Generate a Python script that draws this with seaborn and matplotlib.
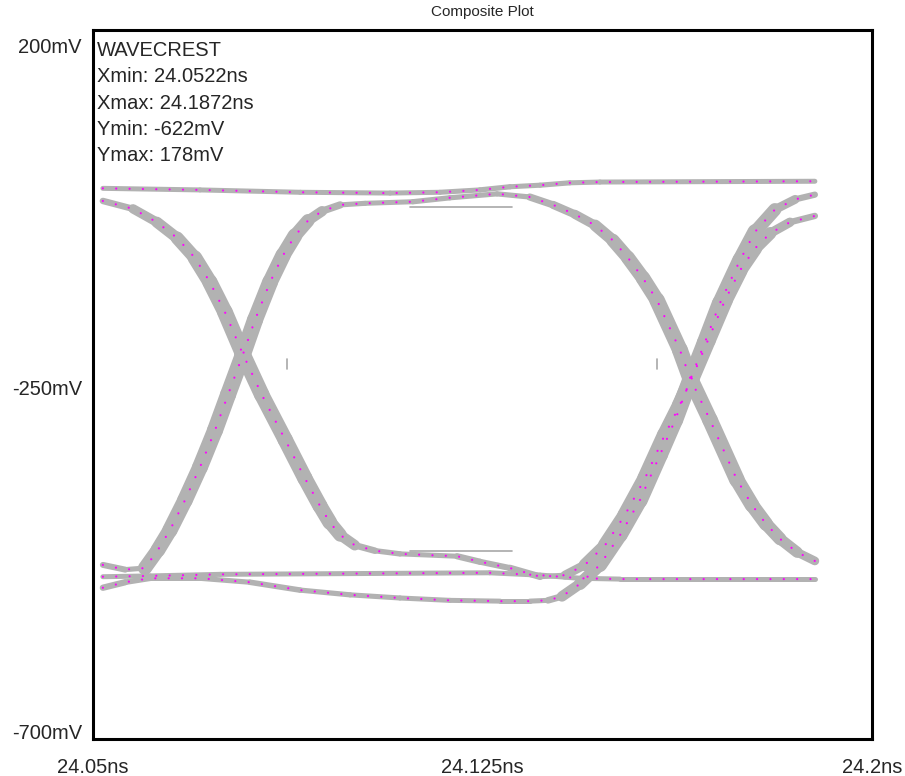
import numpy as np
import pandas as pd
import seaborn as sns
import matplotlib.pyplot as plt
from matplotlib.transforms import ScaledTranslation

# Eye traces: time in ns, level in mV
rail_high_ns = [24.0519, 24.0706, 24.0899, 24.1072, 24.1168, 24.1245, 24.1303, 24.1361, 24.1418, 24.1476, 24.1890]
rail_high_mv = [-1, -3, -6, -7, -6, -3, 1, 3, 6, 7, 8]

fall_left_ns = [24.0519, 24.0577, 24.0623, 24.0662, 24.0696, 24.0725, 24.0754, 24.0787, 24.0825, 24.0870,
                24.0908, 24.0937, 24.0956, 24.0976, 24.1004, 24.1043, 24.1091, 24.1201, 24.1245, 24.1303,
                24.1361, 24.1409, 24.1447, 24.1486, 24.1524, 24.1563, 24.1601, 24.1630, 24.1653, 24.1684,
                24.1717, 24.1746, 24.1775, 24.1804, 24.1842, 24.1890]
fall_left_mv = [-17, -27, -44, -64, -89, -120, -158, -209, -263, -320,
                -369, -404, -425, -441, -454, -461, -465, -468, -475, -483,
                -494, -492, -479, -454, -416, -369, -314, -276, -242, -194,
                -143, -105, -77, -58, -44, -36]

rise_left_ns = [24.0519, 24.0562, 24.0600, 24.0625, 24.0648, 24.0677, 24.0706, 24.0735, 24.0760, 24.0787,
                24.0812, 24.0841, 24.0866, 24.0889, 24.0914, 24.0941, 24.0976, 24.1024, 24.1116, 24.1187,
                24.1278, 24.1341, 24.1386, 24.1428, 24.1467, 24.1501, 24.1530, 24.1559, 24.1586, 24.1630,
                24.1650, 24.1688, 24.1740, 24.1769, 24.1796, 24.1823, 24.1856, 24.1890]
rise_left_mv = [-479, -485, -483, -460, -435, -397, -355, -308, -263, -215,
                -168, -120, -86, -61, -42, -30, -22, -20, -18, -13,
                -8, -12, -22, -34, -48, -67, -89, -115, -143, -206,
                -242, -295, -371, -403, -427, -446, -463, -474]

rail_low_ns = [24.0519, 24.0562, 24.0610, 24.0706, 24.0802, 24.0899, 24.0995, 24.1091, 24.1187, 24.1284,
               24.1341, 24.1376, 24.1403, 24.1438, 24.1476, 24.1515, 24.1553, 24.1592, 24.1621, 24.1650,
               24.1678, 24.1707, 24.1746, 24.1775, 24.1813, 24.1852, 24.1890]
rail_low_mv = [-508, -501, -496, -496, -501, -511, -517, -521, -524, -525,
               -525, -524, -519, -503, -479, -441, -397, -339, -295, -244,
               -197, -147, -92, -56, -28, -15, -9]

rail_mid_ns = [24.0519, 24.0610, 24.0745, 24.1264, 24.1361, 24.1438, 24.1515, 24.1890]
rail_mid_mv = [-494, -493, -491, -489, -492, -496, -497, -497]

# measurement cursors
cursor_h_ns = [24.1110, 24.1307]
cursor_h_mv = [-25, -461]
cursor_v_ns = [24.0874, 24.1586]
cursor_v_mv = [-218, -230]

info_lines = ["WAVECREST", "Xmin: 24.0522ns", "Xmax: 24.1872ns", "Ymin: -622mV", "Ymax: 178mV"]
x_ticks = [24.05, 24.125, 24.2]
x_labels = ["24.05ns", "24.125ns", "24.2ns"]
y_ticks = [200, -250, -700]
y_labels = ["200mV", "-250mV", "-700mV"]

traces = {
    "rail_high": (rail_high_ns, rail_high_mv),
    "fall_left": (fall_left_ns, fall_left_mv),
    "rise_left": (rise_left_ns, rise_left_mv),
    "rail_low": (rail_low_ns, rail_low_mv),
    "rail_mid": (rail_mid_ns, rail_mid_mv),
}

sns.set_style("white")
plt.rcParams["font.family"] = ["Liberation Sans", "DejaVu Sans"]

W, H = 905, 776
fig = plt.figure(figsize=(W / 100, H / 100), dpi=100)
ax = fig.add_axes([93 / W, 37 / H, 779 / W, 709 / H])
ax.set_xlim(24.05, 24.2)
ax.set_ylim(-700, 200)

# split traces into segments so the band gets wider where the edge is steep
# (timing jitter spreads it sideways, noise only a little vertically)
rows = []
for name, (xs, ys) in traces.items():
    pix = ax.transData.transform(np.column_stack([xs, ys]))
    for i in range(len(xs) - 1):
        dx, dy = pix[i + 1] - pix[i]
        ang = np.arctan2(abs(dy), abs(dx))
        w = np.hypot(17 * np.sin(ang), 5 * np.cos(ang)) * 0.72
        seg = f"{name}_{i}"
        rows.append({"seg": seg, "t": xs[i], "v": ys[i], "w": w})
        rows.append({"seg": seg, "t": xs[i + 1], "v": ys[i + 1], "w": w})
segs = pd.DataFrame(rows)
wmin, wmax = segs["w"].min(), segs["w"].max()

sns.lineplot(data=segs, x="t", y="v", units="seg", estimator=None, sort=False,
             size="w", sizes=(wmin, wmax), size_norm=(wmin, wmax),
             color="#b2b2b2", solid_capstyle="round", legend=False, ax=ax)

full = pd.concat([pd.DataFrame({"trace": k, "t": v[0], "v": v[1]}) for k, v in traces.items()])
sns.lineplot(data=full, x="t", y="v", units="trace", estimator=None, sort=False,
             color="#ff00ff", lw=1.6, linestyle=(0, (0.01, 6)), dash_capstyle="round",
             legend=False, ax=ax)

for mv in cursor_h_mv:
    sns.lineplot(x=cursor_h_ns, y=[mv, mv], color="#a8a8a8", lw=1.2, ax=ax)
for ns in cursor_v_ns:
    sns.lineplot(x=[ns, ns], y=cursor_v_mv, color="#a8a8a8", lw=1.2, ax=ax, orient="y")

for s in ax.spines.values():
    s.set_color("black")
    s.set_linewidth(2.2)

ax.set_xticks(x_ticks, x_labels, fontsize=14.5)
ax.set_yticks(y_ticks, y_labels, fontsize=14.5)
ax.tick_params(axis="both", length=0)
ax.tick_params(axis="x", pad=14)
ax.tick_params(axis="y", pad=8)
ax.set_xlabel("")
ax.set_ylabel("")

# the scope prints its y labels inside the frame edges
for lab, va, dy in zip(ax.get_yticklabels(), ["top", "center", "bottom"], [-8, -5, -4]):
    lab.set_va(va)
    lab.set_transform(lab.get_transform() + ScaledTranslation(0, dy / 100, fig.dpi_scale_trans))

for i, line in enumerate(info_lines):
    ax.annotate(line, xy=(0, 1), xycoords="axes fraction",
                xytext=(3, -(11 + 26.3 * i) * 0.72), textcoords="offset points",
                ha="left", va="top", fontsize=14.5)

fig.text(482 / W, 1 - 12 / H, "Composite Plot", ha="center", va="center", fontsize=11)

fig.savefig("out.png", dpi=100)
